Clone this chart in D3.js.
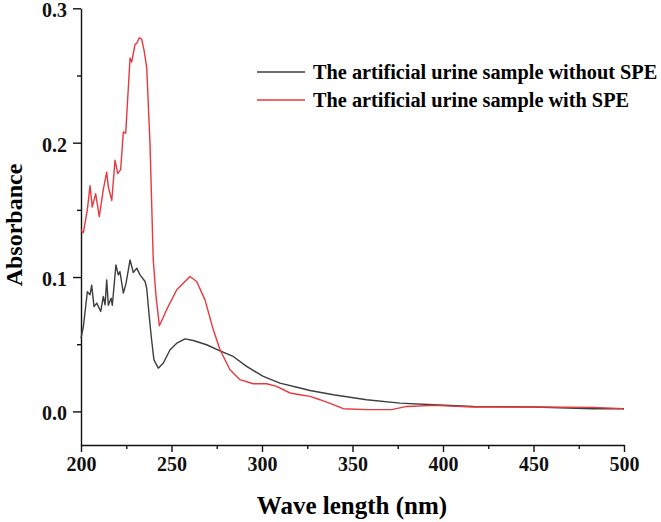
<!DOCTYPE html>
<html>
<head>
<meta charset="utf-8">
<script src="https://cdn.jsdelivr.net/npm/d3@7"></script>
<style>
  body { margin: 0; background: #fff; }
  svg { display: block; }
  .axis text { font-family: "Liberation Serif", "Times New Roman", serif; font-weight: bold; font-size: 20px; fill: #111; }
  .axis path, .axis line { stroke: #111; stroke-width: 1.4; }
</style>
</head>
<body>
<script>
// series (wavelength nm, absorbance)
var withoutNm = [200, 201.3, 203.5, 205, 205.9, 207.2, 208.7, 210.9, 212.3, 213.3, 214.2, 215.1, 216.6, 217.3, 219.3, 220.6, 221.5, 223.4, 224.9, 227.1, 228.9, 230.8, 232.6, 235.4, 236.3, 237.7, 239, 240.3, 242.7, 245.5, 249.2, 252.9, 257.5, 262, 269.4, 276.8, 284.1, 291.5, 300.7, 309.9, 321, 326.5, 339.4, 357.8, 376.2, 394.7, 416.7, 450, 483, 500];
var withoutAbs = [0.0546, 0.063, 0.089, 0.0868, 0.094, 0.078, 0.0806, 0.0744, 0.0855, 0.0793, 0.0979, 0.079, 0.0843, 0.079, 0.109, 0.1016, 0.104, 0.088, 0.0954, 0.1128, 0.1034, 0.1066, 0.1016, 0.0967, 0.0917, 0.0706, 0.0533, 0.0384, 0.0322, 0.036, 0.0459, 0.0508, 0.054, 0.0528, 0.0496, 0.0451, 0.0409, 0.0335, 0.026, 0.0211, 0.0174, 0.0156, 0.0124, 0.0087, 0.0062, 0.005, 0.0037, 0.0033, 0.002, 0.002];

var withNm = [200, 201.3, 203.5, 205, 206.2, 208.1, 210.1, 212.3, 214.2, 215.1, 217, 218.8, 220.3, 221.9, 223.4, 224.7, 227.1, 228, 229.8, 230.8, 232.2, 233.5, 234.8, 236.3, 238.1, 239, 239.9, 241.5, 243.3, 247.3, 252.9, 260.2, 263.9, 268.5, 273.1, 276.8, 282.3, 287.8, 295.2, 302.6, 308.1, 315.5, 321, 326.5, 332, 339.4, 344.9, 357.8, 371.6, 380, 394.7, 416.7, 450, 483, 499.6];
var withAbs = [0.135, 0.133, 0.150, 0.168, 0.152, 0.162, 0.145, 0.165, 0.178, 0.167, 0.157, 0.187, 0.177, 0.180, 0.208, 0.207, 0.263, 0.260, 0.273, 0.274, 0.278, 0.277, 0.269, 0.256, 0.200, 0.157, 0.113, 0.085, 0.0637, 0.0757, 0.0905, 0.1004, 0.0967, 0.083, 0.0607, 0.0459, 0.031, 0.0236, 0.0206, 0.0206, 0.0186, 0.0137, 0.0124, 0.0112, 0.0087, 0.005, 0.002, 0.0013, 0.0013, 0.0037, 0.0045, 0.0033, 0.0033, 0.003, 0.002];

var seriesNames = ['The artificial urine sample without SPE', 'The artificial urine sample with SPE'];
var seriesColors = ['#3d3d3d', '#e8383d'];

var xTicks = [200, 250, 300, 350, 400, 450, 500],
    xMinor = [225, 275, 325, 375, 425, 475],
    yTicks = [0, 0.1, 0.2, 0.3],
    yMinor = [0.05, 0.15, 0.25];

var svgwidth = 661, svgheight = 522;

var xscale = d3.scaleLinear().domain([200, 500]).range([81, 624]);
var yscale = d3.scaleLinear().domain([-0.025, 0.3]).range([445, 8.3]);

var svg = d3.select('body').append('svg')
    .attr('width', svgwidth)
    .attr('height', svgheight);

//axes
var xaxis = d3.axisBottom(xscale).tickValues(xTicks).tickFormat(d3.format('d')).tickSize(7).tickSizeOuter(0).tickPadding(5);
var yaxis = d3.axisLeft(yscale).tickValues(yTicks).tickFormat(d3.format('.1f')).tickSize(8).tickSizeOuter(0).tickPadding(6);

svg.append('g').attr('class', 'axis')
    .attr('transform', 'translate(0,' + yscale.range()[0] + ')')
    .call(xaxis);
svg.append('g').attr('class', 'axis')
    .attr('transform', 'translate(0,' + yscale.range()[0] + ')')
    .call(d3.axisBottom(xscale).tickValues(xMinor).tickFormat('').tickSize(4).tickSizeOuter(0))
    .select('.domain').remove();
svg.append('g').attr('class', 'axis')
    .attr('transform', 'translate(' + xscale.range()[0] + ',0)')
    .call(yaxis)
    .selectAll('.tick text').attr('dy', '0.42em');
svg.append('g').attr('class', 'axis')
    .attr('transform', 'translate(' + xscale.range()[0] + ',0)')
    .call(d3.axisLeft(yscale).tickValues(yMinor).tickFormat('').tickSize(4).tickSizeOuter(0))
    .select('.domain').remove();

//curves
var line = d3.line()
    .x(function (d) { return xscale(d[0]); })
    .y(function (d) { return yscale(d[1]); });

var series = [
    d3.zip(withoutNm, withoutAbs),
    d3.zip(withNm, withAbs)
];
series.forEach(function (s, i) {
    svg.append('path')
        .datum(s)
        .attr('fill', 'none')
        .attr('stroke', seriesColors[i])
        .attr('stroke-width', 1.4)
        .attr('stroke-linejoin', 'round')
        .attr('d', line);
});

//axis titles
svg.append('text')
    .attr('x', 352)
    .attr('y', 514)
    .attr('text-anchor', 'middle')
    .attr('font-family', '"Liberation Serif", serif')
    .attr('font-weight', 'bold')
    .attr('font-size', '25px')
    .text('Wave length (nm)');

svg.append('text')
    .attr('transform', 'translate(22,225) rotate(-90)')
    .attr('text-anchor', 'middle')
    .attr('font-family', '"Liberation Serif", serif')
    .attr('font-weight', 'bold')
    .attr('font-size', '24px')
    .text('Absorbance');

//legend
var legendY = [72, 100];
seriesNames.forEach(function (name, i) {
    svg.append('line')
        .attr('x1', 257).attr('x2', 305)
        .attr('y1', legendY[i]).attr('y2', legendY[i])
        .attr('stroke', seriesColors[i])
        .attr('stroke-width', 1.6);
    svg.append('text')
        .attr('x', 313)
        .attr('y', legendY[i] + 7)
        .attr('font-family', '"Liberation Serif", serif')
        .attr('font-weight', 'bold')
        .attr('font-size', '20.3px')
        .text(name);
});
</script>
</body>
</html>
